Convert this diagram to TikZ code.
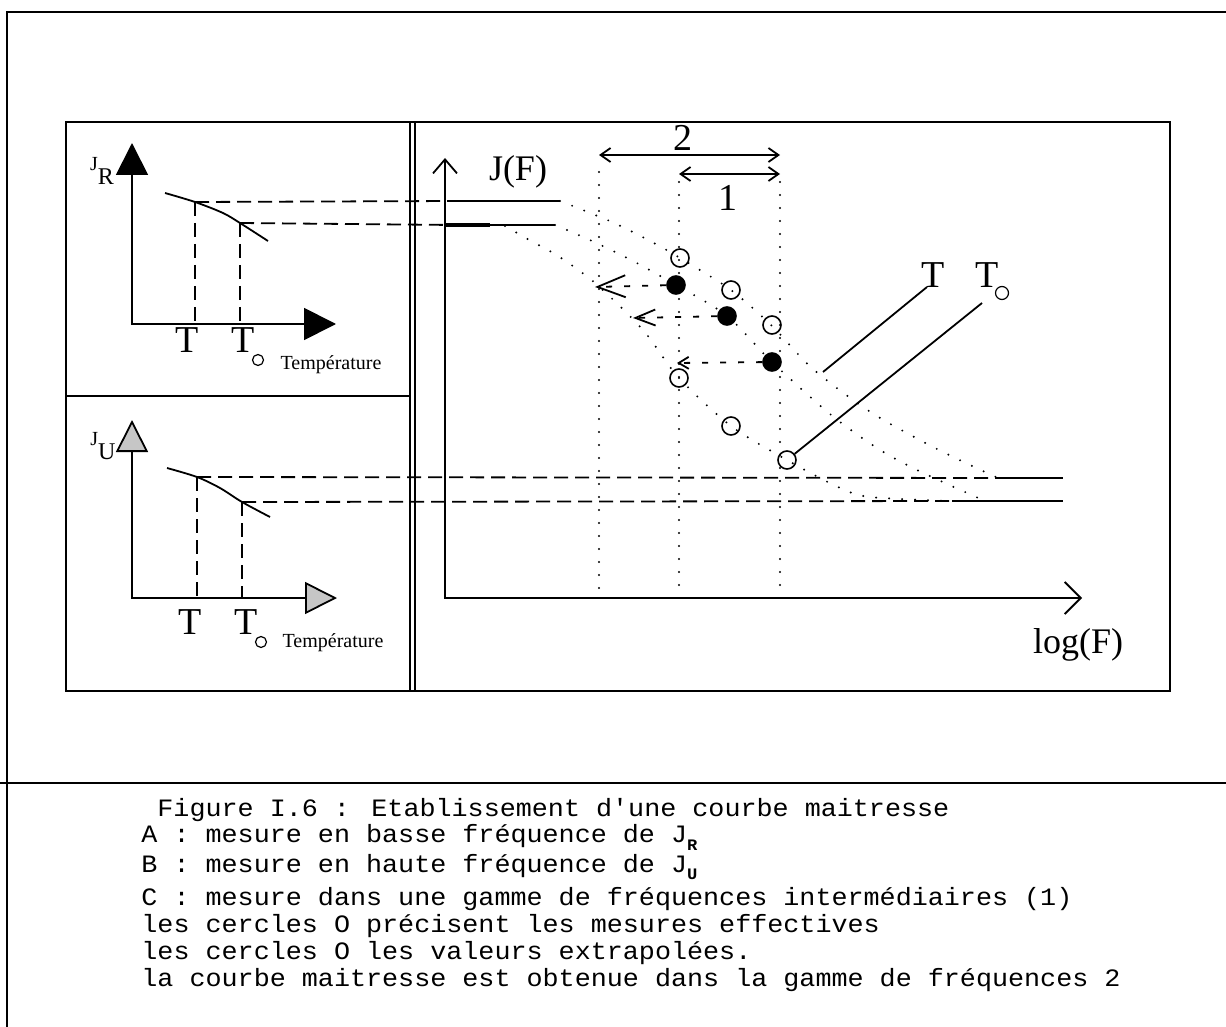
\documentclass[tikz,border=0pt]{standalone}
\usepackage{fontspec}
\setmainfont{Liberation Serif}
\newfontfamily\capfont[FakeStretch=1.07]{Liberation Mono}
\usetikzlibrary{arrows.meta,positioning}

\tikzset{
  frame/.style={line width=0.8pt},
  proj/.style={line width=0.9pt, dash pattern=on 7pt off 3.5pt},
  trace/.style={line width=1.1pt, line cap=round, dash pattern=on 0pt off 6.5pt},
  shiftline/.style={line width=0.9pt, dash pattern=on 3pt off 6pt},
  meas/.style={circle, draw, line width=0.8pt, minimum size=9pt, inner sep=0pt},
  done/.style={meas, fill=black},
  tlabel/.style={font=\fontsize{19}{19}\selectfont, inner sep=0pt},
  subo/.style={circle, draw, line width=0.6pt, minimum size=5.5pt, inner sep=0pt},
  tempname/.style={font=\fontsize{10}{10}\selectfont, inner sep=0pt},
  capline/.style={font=\capfont\fontsize{12.5}{12.5}\selectfont, anchor=west, inner sep=0pt}
}

\begin{document}
\begin{tikzpicture}[x=0.5pt,y=-0.5pt]
\useasboundingbox (0,0) rectangle (1226,1027);

% frames
\draw[frame] (7,1027) -- (7,12) -- (1226,12);
\draw[frame] (0,783) -- (1226,783);
\draw[frame] (66,122) rectangle (1170,691);
\draw[frame] (410,122) -- (410,691);
\draw[frame] (415,122) -- (415,691);
\draw[frame] (66,396) -- (410,396);

% top left : J_R
\draw[line width=0.9pt, {Triangle[length=16pt,width=16pt]}-{Triangle[length=16pt,width=16pt]}]
  (132,143) -- (132,324) -- (336,324);
\node[inner sep=0pt] (jr) at (102,171) {{\fontsize{10}{10}\selectfont J}\raisebox{-7pt}{\fontsize{12}{12}\selectfont R}};
\draw[line width=0.9pt] plot[smooth] coordinates {(165,193) (195,202) (223,213) (240,223) (268,241)};
\coordinate (rT) at (195,202);
\coordinate (rTo) at (240,223);
\node[tlabel] (tR) at (187,340) {T};
\node[tlabel] (toR) at (243,340) {T};
\node[subo] (oR) at (258,360) {};
\node[tempname] (tempR) at (331,365) {Température};
\draw[proj] (rT) -- (195,324);
\draw[proj] (rTo) -- (240,324);

% bottom left : J_U
\draw[line width=0.9pt, {Triangle[length=16pt,width=16pt,fill=gray!45]}-{Triangle[length=16pt,width=16pt,fill=gray!45]}]
  (132,420) -- (132,598) -- (337,598);
\node[inner sep=0pt] (ju) at (103,446) {{\fontsize{10}{10}\selectfont J}\raisebox{-7pt}{\fontsize{12}{12}\selectfont U}};
\draw[line width=0.9pt] plot[smooth] coordinates {(167,468) (197,477) (220,488) (242,502) (270,517)};
\coordinate (uT) at (197,477);
\coordinate (uTo) at (242,502);
\node[tlabel] (tU) at (190,622) {T};
\node[tlabel] (toU) at (246,622) {T};
\node[subo] (oU) at (261,642) {};
\node[tempname] (tempU) at (333,643) {Température};
\draw[proj] (uT) -- (197,598);
\draw[proj] (uTo) -- (242,598);

% right : J(F)
\draw[line width=0.9pt, {Straight Barb[length=7pt,width=12pt]}-{Straight Barb[length=8pt,width=16pt]}]
  (445,158) -- (445,598) -- (1082,598);
\node[font=\fontsize{18}{18}\selectfont] (jf) at (518,172) {J(F)};
\node[font=\fontsize{18}{18}\selectfont] (logf) at (1078,645) {log(F)};

% plateaus
\coordinate (aL) at (560,201);
\coordinate (bL) at (555,225);
\coordinate (aR) at (998,478);
\coordinate (bR) at (985,501);
\draw[proj] (rT) -- (455,201);
\draw[line width=0.9pt] (455,201) -- (aL);
\draw[proj] (rTo) -- (455,225);
\draw[line width=0.9pt] (455,225) -- (bL);
\draw[line width=1.6pt] (445,225) -- (490,225);
\draw[proj] (uT) -- (aR);
\draw[line width=0.9pt] (aR) -- (1063,478);
\draw[proj] (uTo) -- (952,501);
\draw[line width=1.3pt] (952,501) -- (1063,501);

% frequency windows
\draw[trace] (599,172) -- (599,590);
\draw[trace] (679,182) -- (679,590);
\draw[trace] (780,182) -- (780,590);
\coordinate (w2a) at (599,155);
\coordinate (w2b) at (780,155);
\coordinate (w1a) at (679,174);
\coordinate (w1b) at (780,174);
\draw[line width=0.9pt, {Straight Barb[length=5pt,width=7pt]}-{Straight Barb[length=5pt,width=7pt]}] (w2a) -- (w2b);
\draw[line width=0.9pt, {Straight Barb[length=5pt,width=7pt]}-{Straight Barb[length=5pt,width=7pt]}] (w1a) -- (w1b);
\node[tlabel] (n2) at (683,138) {2};
\node[tlabel] (n1) at (728,198) {1};

% dotted curves
\draw[trace] plot[smooth, tension=0.5] coordinates {(560,201) (612,222) (652,242) (680,258) (731,290) (772,326) (813,369) (872,413) (937,449) (998,478)};
\draw[trace] plot[smooth, tension=0.5] coordinates {(555,225) (592,241) (633,261) (676,285) (727,316) (772,362) (830,414) (877,448) (917,470) (985,501)};
\draw[trace] plot[smooth, tension=0.5] coordinates {(505,226) (531,241) (558,256) (595,283) (643,330) (679,378) (731,426) (787,460) (838,487) (870,497) (950,501)};

% points
\node[meas] (e1) at (680,258) {};
\node[meas] (e2) at (731,290) {};
\node[meas] (e3) at (772,325) {};
\node[meas] (m1) at (679,378) {};
\node[meas] (m2) at (731,426) {};
\node[meas] (m3) at (787,460) {};
\node[done] (f1) at (676,285) {};
\node[done] (f2) at (727,316) {};
\node[done] (f3) at (772,362) {};

% shifts
\coordinate (s1) at (595,287);
\coordinate (s2) at (633,318);
\coordinate (s3) at (677,363);
\draw[shiftline, -{Straight Barb[length=14pt,width=11pt]}] (f1) -- (s1);
\draw[shiftline, -{Straight Barb[length=10pt,width=8pt]}] (f2) -- (s2);
\draw[shiftline, -{Straight Barb[length=5pt,width=6pt]}] (f3) -- (s3);

% temperatures
\draw[line width=0.9pt] (823,372) -- (927,287);
\draw[line width=0.9pt] (m3) -- (982,303);
\node[tlabel] (tF) at (933,275) {T};
\node[tlabel] (toF) at (987,275) {T};
\node[subo, minimum size=6.5pt] (oF) at (1002,293) {};

% caption
\node[capline] (c0) at (157,810) {Figure I.6 : Etablissement d'une courbe maitresse};
\node[capline] (c1) at (141,837) {A : mesure en basse fréquence de J\raisebox{-0.6ex}{\fontsize{8}{8}\selectfont\bfseries R}};
\node[capline] (c2) at (141,867) {B : mesure en haute fréquence de J\raisebox{-0.6ex}{\fontsize{8}{8}\selectfont\bfseries U}};
\node[capline] (c3) at (141,899) {C : mesure dans une gamme de fréquences intermédiaires (1)};
\node[capline] (c4) at (141,926) {les cercles O précisent les mesures effectives};
\node[capline] (c5) at (141,953) {les cercles O les valeurs extrapolées.};
\node[capline] (c6) at (141,980) {la courbe maitresse est obtenue dans la gamme de fréquences 2};
\end{tikzpicture}
\end{document}
